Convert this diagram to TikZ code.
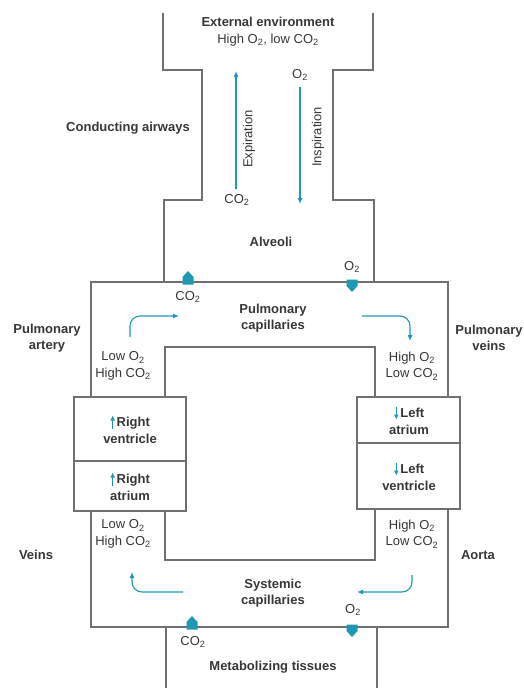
\documentclass[tikz,border=0pt]{standalone}
\usepackage{fontspec}
\setmainfont{Liberation Sans}
\usetikzlibrary{arrows.meta}
\definecolor{flow}{RGB}{32,152,180}
\definecolor{wallc}{RGB}{112,112,112}
\definecolor{ink}{RGB}{55,55,55}
\newcommand{\upflow}{\tikz[baseline=0pt,x=1pt,y=1pt]\draw[flow,line width=1.3pt,-{Latex[length=5pt,width=5pt]}] (0,-2)--(0,11);\hspace{1.5pt}}
\newcommand{\downflow}{\tikz[baseline=0pt,x=1pt,y=1pt]\draw[flow,line width=1.3pt,-{Latex[length=5pt,width=5pt]}] (0,11)--(0,-2);\hspace{1.5pt}}
\newcommand{\Ot}{O\textsubscript{2}}
\newcommand{\COt}{CO\textsubscript{2}}
\begin{document}
\begin{tikzpicture}[x=1pt,y=-1pt,
  font=\fontsize{13}{16.5}\selectfont, text=ink,
  wall/.style={draw=wallc,line width=1.1pt},
  lbl/.style={inner sep=0pt,align=center},
  blbl/.style={lbl,font=\fontsize{13}{16.5}\selectfont\bfseries},
  flowline/.style={draw=flow,line width=1.1pt,-{Latex[length=6pt,width=5pt]}},
  curvedflow/.style={flowline,rounded corners=10pt},
  gasup/.pic={\fill[flow] (-5.5,2.5) -- (-5.5,-5) -- (0,-11) -- (5.5,-5) -- (5.5,2.5) -- cycle;},
  gasdown/.pic={\fill[flow] (-5.5,-2.5) -- (-5.5,4) -- (0,10) -- (5.5,4) -- (5.5,-2.5) -- cycle;}]
\useasboundingbox (0,0) rectangle (523,688);
% walls
\draw[wall] (163,13) -- (163,70) -- (202,70) -- (202,200) -- (164,200) -- (164,282);
\draw[wall] (373,13) -- (373,70) -- (333,70) -- (333,200) -- (374,200) -- (374,282);
\draw[wall] (91,282) rectangle (448,627);
\draw[wall] (165,347) rectangle (375,560);
\draw[wall] (166,627) -- (166,688);
\draw[wall] (377,627) -- (377,688);
% heart boxes
\draw[wall,fill=white] (74,397) rectangle (186,511);
\draw[wall] (74,461) -- (186,461);
\draw[wall,fill=white] (357,397) rectangle (460,509);
\draw[wall] (357,443) -- (460,443);
% labels
\node[blbl] (ext) at (268,22) {External environment};
\node[lbl] (hi) at (268,40) {High \Ot, low \COt};
\node[blbl] (cond) at (128,128) {Conducting airways};
\node[lbl] (o2top) at (300,75) {\Ot};
\node[lbl] (co2air) at (237,200) {\COt};
\node[lbl,rotate=90] (expl) at (249,139) {Expiration};
\node[lbl,rotate=90] (insp) at (318,137) {Inspiration};
\node[blbl] (alv) at (271,242) {Alveoli};
\node[lbl] (o2alv) at (352,267) {\Ot};
\node[lbl] (co2alv) at (188,297) {\COt};
\node[blbl] (pcap) at (273,318) {Pulmonary\\capillaries};
\node[blbl] (part) at (47,338) {Pulmonary\\artery};
\node[blbl] (pvein) at (489,338) {Pulmonary\\veins};
\node[lbl] (lowtl) at (123,366) {Low \Ot\\High \COt};
\node[lbl] (hightr) at (412,366) {High \Ot\\Low \COt};
\node[blbl] (rv) at (130,429) {\upflow Right\\ventricle};
\node[blbl] (ra) at (130,486) {\upflow Right\\atrium};
\node[blbl] (la) at (409,420) {\downflow Left\\atrium};
\node[blbl] (lv) at (409,476) {\downflow Left\\ventricle};
\node[lbl] (lowbl) at (123,534) {Low \Ot\\High \COt};
\node[lbl] (highbr) at (412,534) {High \Ot\\Low \COt};
\node[blbl] (veins) at (36,555) {Veins};
\node[blbl] (aorta) at (478,555) {Aorta};
\node[blbl] (scap) at (273,593) {Systemic\\capillaries};
\node[lbl] (o2bot) at (353,610) {\Ot};
\node[lbl] (co2bot) at (193,642) {\COt};
\node[blbl] (tissues) at (273,667) {Metabolizing tissues};
% airway flows
\coordinate (exS) at (236,189);
\coordinate (exE) at (236,71);
\coordinate (inS) at (300,87);
\coordinate (inE) at (300,204);
\draw[flowline] (exS) -- (exE);
\draw[flowline] (inS) -- (inE);
% circulation flows
\coordinate (p1s) at (130,337);
\coordinate (p1e) at (179,316);
\coordinate (p2s) at (362,316);
\coordinate (p2e) at (410,341);
\coordinate (s1s) at (412,575);
\coordinate (s1e) at (357,592);
\coordinate (s2s) at (183,592);
\coordinate (s2e) at (132,572);
\draw[curvedflow] (p1s) |- (p1e);
\draw[curvedflow] (p2s) -| (p2e);
\draw[curvedflow] (s1s) |- (s1e);
\draw[curvedflow] (s2s) -| (s2e);
% gas exchange block arrows
\coordinate (gA) at (188,282);
\coordinate (gB) at (352,282);
\coordinate (gC) at (192,627);
\coordinate (gD) at (352,627);
\pic at (gA) {gasup};
\pic at (gB) {gasdown};
\pic at (gC) {gasup};
\pic at (gD) {gasdown};
\end{tikzpicture}
\end{document}
